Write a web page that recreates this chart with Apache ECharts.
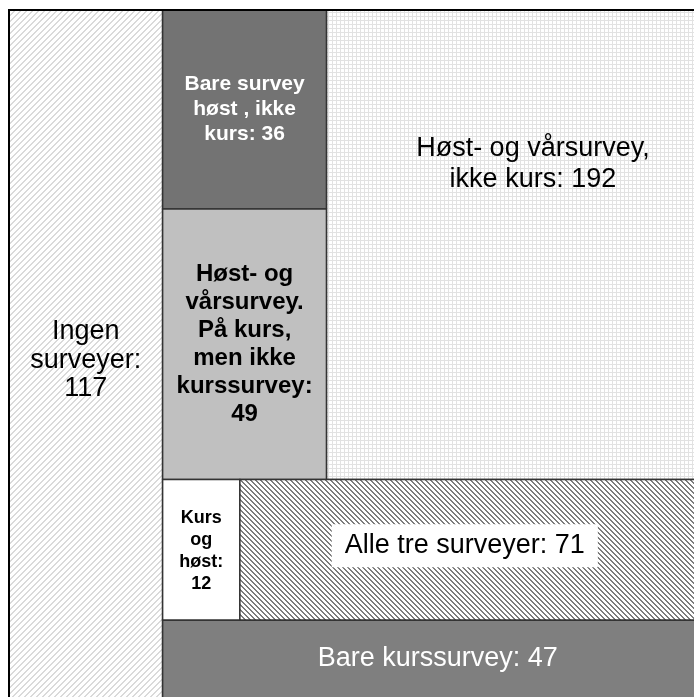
<!DOCTYPE html>
<html>
<head>
<meta charset="utf-8">
<script src="https://cdn.jsdelivr.net/npm/echarts@6/dist/echarts.min.js"></script>
<style>
html,body{margin:0;padding:0;background:#fff;overflow:hidden;width:694px;height:697px;}
#chart{width:697px;height:700px;}
</style>
</head>
<body>
<div id="chart"></div>
<script>
// ---- data ----
const categories = [
  'Ingen surveyer',
  'Bare survey høst , ikke kurs',
  'Høst- og vårsurvey. På kurs, men ikke kurssurvey',
  'Høst- og vårsurvey, ikke kurs',
  'Kurs og høst',
  'Alle tre surveyer',
  'Bare kurssurvey'
];
const values = [117, 36, 49, 192, 12, 71, 47];
const labelPrefixes = [
  'Ingen\nsurveyer:',
  'Bare survey\nhøst , ikke\nkurs:',
  'Høst- og\nvårsurvey.\nPå kurs,\nmen ikke\nkurssurvey:',
  'Høst- og vårsurvey,\nikke kurs:',
  'Kurs\nog\nhøst:',
  'Alle tre surveyer:',
  'Bare kurssurvey:'
];
const valueSeparators = ['\n', ' ', '\n', ' ', '\n', ' ', ' '];

// ---- patterns ----
function makePattern(size, fn) {
  const c = document.createElement('canvas');
  c.width = size; c.height = size;
  const ctx = c.getContext('2d');
  const img = ctx.createImageData(size, size);
  for (let y = 0; y < size; y++) {
    for (let x = 0; x < size; x++) {
      const col = fn(x, y);
      const k = (y * size + x) * 4;
      img.data[k] = col[0]; img.data[k + 1] = col[1]; img.data[k + 2] = col[2]; img.data[k + 3] = 255;
    }
  }
  ctx.putImageData(img, 0, 0);
  return c;
}
const W = [255, 255, 255];
const slashLight = makePattern(6, (x, y) => ((x + y) % 6 < 2 ? [218, 218, 218] : W));
const gridLight = makePattern(4, (x, y) => ((x % 4 === 0 || y % 4 === 0) ? [226, 226, 226] : W));
const backDark = makePattern(5, (x, y) => (((x - y + 50) % 5) < 2 ? [125, 125, 125] : W));

// ---- styles (per cell) ----
const cellStyles = [
  { fill: { image: slashLight, repeat: 'repeat' }, text: '#000', size: 27, weight: 'normal', lh: 28.5, pos: [0.5, 0.508] },
  { fill: '#737373', text: '#fff', size: 21, weight: 'bold', lh: 25, pos: [0.5, 0.5] },
  { fill: '#c0c0c0', text: '#000', size: 24, weight: 'bold', lh: 28, pos: [0.5, 0.5] },
  { fill: { image: gridLight, repeat: 'repeat' }, text: '#000', size: 27, weight: 'normal', lh: 31, pos: [0.557, 0.327] },
  { fill: '#ffffff', text: '#000', size: 18, weight: 'bold', lh: 22, pos: [0.5, 0.51] },
  { fill: { image: backDark, repeat: 'repeat' }, text: '#000', size: 27, weight: 'normal', lh: 27, pos: [0.492, 0.47], bg: '#fff', pad: [8, 13] },
  { fill: '#7f7f7f', text: '#fff', size: 27, weight: 'normal', lh: 27, pos: [0.515, 0.48] }
];

// ---- slice-and-dice layout in data units ----
const total = values.reduce((a, b) => a + b, 0);
const rest = total - values[0];
const topSum = values[1] + values[2] + values[3];
const midSum = values[4] + values[5];
const yTop = topSum / rest;
const yMid = (topSum + midSum) / rest;
const xl = values[0];
const xc = xl + rest * (values[1] + values[2]) / topSum;
const xk = xl + rest * values[4] / midSum;
const y36 = yTop * values[1] / (values[1] + values[2]);
const rects = [
  [0, xl, 0, 1],
  [xl, xc, 0, y36],
  [xl, xc, y36, yTop],
  [xc, total, 0, yTop],
  [xl, xk, yTop, yMid],
  [xk, total, yTop, yMid],
  [xl, total, yMid, 1]
];

const chart = echarts.init(document.getElementById('chart'));
chart.setOption({
  animation: false,
  grid: { left: 9, top: 10, right: 0, bottom: 0, show: true, borderColor: '#000', borderWidth: 2, backgroundColor: 'transparent', z: 10 },
  xAxis: { type: 'value', min: 0, max: total, show: false },
  yAxis: { type: 'value', min: 0, max: 1, inverse: true, show: false },
  series: [{
    type: 'custom',
    silent: true,
    data: values.map((v, i) => ({ name: categories[i], value: [i, v] })),
    renderItem: function (params, api) {
      const i = params.dataIndex;
      const r = rects[i];
      const p0 = api.coord([r[0], r[2]]);
      const p1 = api.coord([r[1], r[3]]);
      const x = Math.min(p0[0], p1[0]), y = Math.min(p0[1], p1[1]);
      const w = Math.abs(p1[0] - p0[0]), h = Math.abs(p1[1] - p0[1]);
      const s = cellStyles[i];
      const txtStyle = {
        text: labelPrefixes[i] + valueSeparators[i] + api.value(1),
        x: x + w * s.pos[0],
        y: y + h * s.pos[1],
        fill: s.text,
        fontSize: s.size,
        fontWeight: s.weight,
        fontFamily: '"Liberation Sans", Arial, Helvetica, sans-serif',
        lineHeight: s.lh,
        align: 'center',
        verticalAlign: 'middle'
      };
      if (s.bg) { txtStyle.backgroundColor = s.bg; txtStyle.padding = s.pad; }
      return {
        type: 'group',
        children: [
          { type: 'rect', shape: { x: x, y: y, width: w, height: h }, style: { fill: s.fill, stroke: '#333', lineWidth: 1.5 } },
          { type: 'text', style: txtStyle }
        ]
      };
    }
  }]
});
</script>
</body>
</html>
